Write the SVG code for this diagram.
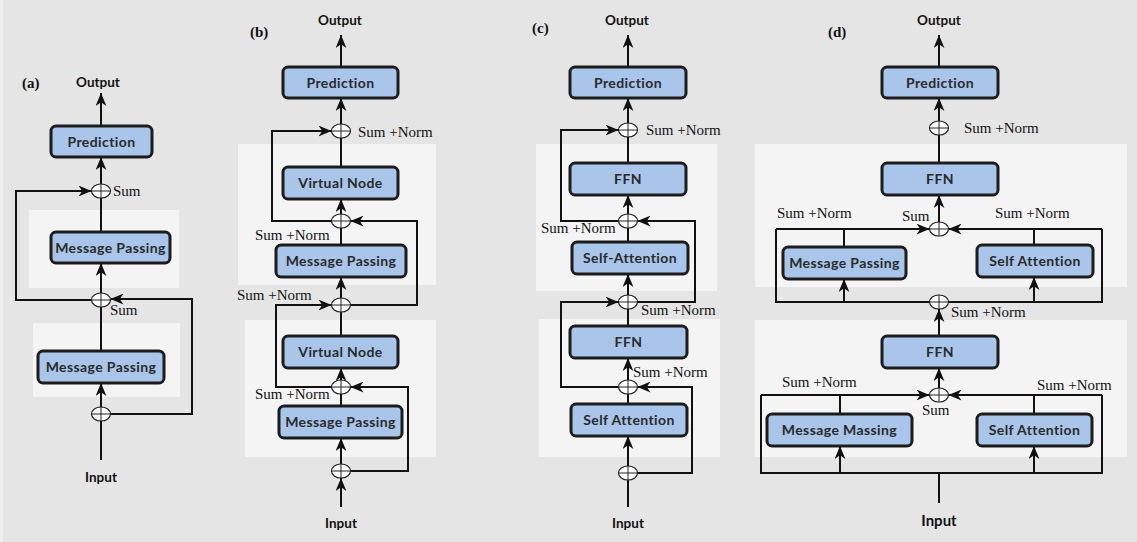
<svg xmlns="http://www.w3.org/2000/svg" width="1137" height="542" viewBox="0 0 1137 542">
<defs>
<marker id="ah" viewBox="0 0 12 10" refX="12" refY="5" markerWidth="13" markerHeight="11" markerUnits="userSpaceOnUse" orient="auto">
<path d="M0,0 L12,5 L0,10 L3.5,5 z" fill="#111"/>
</marker>
<g id="sumop">
<ellipse cx="0" cy="0" rx="9.5" ry="7" fill="#fff" stroke="#222" stroke-width="1.2"/>
<path d="M-9.5,0 H9.5 M0,-7 V7" stroke="#222" stroke-width="1"/>
</g>
</defs>
<style>
.bg{fill:#e5e5e5}
.panel{fill:#f4f4f4}
.box{fill:#a9c5ea;stroke:#1c1c1c;stroke-width:3}
.bt{font-family:Lato,"DejaVu Sans",sans-serif;font-weight:bold;font-size:14px;letter-spacing:0.4px;fill:#2a2a2a;text-anchor:middle}
.io{font-family:Lato,"DejaVu Sans",sans-serif;font-weight:bold;font-size:13.5px;fill:#111;text-anchor:middle}
.lab{font-family:"Liberation Serif",serif;font-weight:bold;font-size:15px;fill:#111}
.sn{font-family:"Liberation Serif",serif;font-size:15px;fill:#111}
.c{fill:none;stroke:#111;stroke-width:2}
.a{fill:none;stroke:#111;stroke-width:2;marker-end:url(#ah)}
</style>
<rect class="bg" x="0" y="0" width="1137" height="542"/>
<rect x="0" y="0" width="3" height="542" fill="#f0f0f0"/>

<g id="panels">
<rect class="panel" x="29" y="210" width="150" height="78"/>
<rect class="panel" x="33" y="323" width="147" height="74"/>
<rect class="panel" x="238" y="144" width="198" height="141"/>
<rect class="panel" x="245" y="320" width="191" height="137"/>
<rect class="panel" x="536" y="144" width="181" height="147"/>
<rect class="panel" x="539" y="319" width="181" height="138"/>
<rect class="panel" x="755" y="144" width="372" height="143"/>
<rect class="panel" x="755" y="320" width="372" height="137"/>
</g>

<g id="connectors">
<!-- (a) -->
<path class="a" d="M101,126 V93"/>
<path class="a" d="M101,184 V157"/>
<path class="c" d="M101,232 V198"/>
<path class="a" d="M101,293 V263"/>
<path class="c" d="M101,351 V307"/>
<path class="a" d="M101,407 V383"/>
<path class="c" d="M101,460 V421"/>
<path class="a" d="M91.5,300 H16 V191 H91.5"/>
<path class="a" d="M110.5,414 H192 V299 H110.5"/>
<!-- (b) -->
<path class="a" d="M341,67 V35"/>
<path class="a" d="M341,124 V98"/>
<path class="c" d="M341,167 V138"/>
<path class="a" d="M341,214 V199"/>
<path class="c" d="M341,245 V228"/>
<path class="a" d="M341,298 V277"/>
<path class="c" d="M341,336 V312"/>
<path class="a" d="M341,380 V368"/>
<path class="c" d="M341,406 V394"/>
<path class="a" d="M341,464 V438"/>
<path class="a" d="M341,507 V478"/>
<path class="a" d="M331.5,221 H272 V131 H331.5"/>
<path class="a" d="M350.5,305 H417 V221 H350.5"/>
<path class="a" d="M331.5,387 H276 V305 H331.5"/>
<path class="a" d="M350.5,471 H408 V387 H350.5"/>
<!-- (c) -->
<path class="a" d="M628,67 V35"/>
<path class="a" d="M628,123 V98"/>
<path class="c" d="M628,163 V137"/>
<path class="a" d="M628,214 V195"/>
<path class="c" d="M628,242 V228"/>
<path class="a" d="M628,295 V274"/>
<path class="c" d="M628,326 V309"/>
<path class="a" d="M628,380 V358"/>
<path class="c" d="M628,404 V394"/>
<path class="a" d="M628,466 V436"/>
<path class="c" d="M628,507 V480"/>
<path class="a" d="M618.5,221 H561 V130 H618.5"/>
<path class="a" d="M637.5,302 H695 V221 H637.5"/>
<path class="a" d="M618.5,387 H561 V302 H618.5"/>
<path class="a" d="M637.5,473 H692 V387 H637.5"/>
<!-- (d) -->
<path class="a" d="M939,67 V35"/>
<path class="a" d="M939,121 V98"/>
<path class="c" d="M939,163 V135"/>
<path class="a" d="M939,222 V195"/>
<path class="a" d="M776,229 H929.5"/>
<path class="a" d="M1102,229 H948.5"/>
<path class="c" d="M776,229 V302 H1102 V229"/>
<path class="c" d="M844,247 V229"/>
<path class="c" d="M1034,245 V229"/>
<path class="a" d="M844,302 V279"/>
<path class="a" d="M1034,302 V277"/>
<path class="a" d="M939,336 V309"/>
<path class="a" d="M939,388 V368"/>
<path class="a" d="M761,395 H929.5"/>
<path class="a" d="M1102,395 H948.5"/>
<path class="c" d="M761,395 V473 H1102 V395"/>
<path class="c" d="M840,414 V395"/>
<path class="c" d="M1034,414 V395"/>
<path class="a" d="M840,473 V446"/>
<path class="a" d="M1034,473 V446"/>
<path class="c" d="M939,503 V473"/>
</g>

<g id="sums">
<use href="#sumop" x="101" y="191"/>
<use href="#sumop" x="101" y="300"/>
<use href="#sumop" x="101" y="414"/>
<use href="#sumop" x="341" y="131"/>
<use href="#sumop" x="341" y="221"/>
<use href="#sumop" x="341" y="305"/>
<use href="#sumop" x="341" y="387"/>
<use href="#sumop" x="341" y="471"/>
<use href="#sumop" x="628" y="130"/>
<use href="#sumop" x="628" y="221"/>
<use href="#sumop" x="628" y="302"/>
<use href="#sumop" x="628" y="387"/>
<use href="#sumop" x="628" y="473"/>
<use href="#sumop" x="939" y="128"/>
<use href="#sumop" x="939" y="229"/>
<use href="#sumop" x="939" y="302"/>
<use href="#sumop" x="939" y="395"/>
</g>

<!-- (a) nodes -->
<g id="a-pred"><rect class="box" x="51" y="126" width="101" height="31" rx="5"/><text class="bt" x="101.5" y="146.5">Prediction</text></g>
<g id="a-mp1"><rect class="box" x="51" y="232" width="119" height="31" rx="5"/><text class="bt" x="110.5" y="252.5">Message Passing</text></g>
<g id="a-mp2"><rect class="box" x="38" y="351" width="126" height="32" rx="5"/><text class="bt" x="101" y="372">Message Passing</text></g>

<!-- (b) nodes -->
<g id="b-pred"><rect class="box" x="283" y="67" width="115" height="31" rx="5"/><text class="bt" x="340.5" y="87.5">Prediction</text></g>
<g id="b-vn1"><rect class="box" x="283" y="167" width="115" height="32" rx="5"/><text class="bt" x="340.5" y="188">Virtual Node</text></g>
<g id="b-mp1"><rect class="box" x="276" y="245" width="130" height="32" rx="5"/><text class="bt" x="341" y="266">Message Passing</text></g>
<g id="b-vn2"><rect class="box" x="283" y="336" width="115" height="32" rx="5"/><text class="bt" x="340.5" y="357">Virtual Node</text></g>
<g id="b-mp2"><rect class="box" x="279" y="406" width="123" height="32" rx="5"/><text class="bt" x="340.5" y="427">Message Passing</text></g>

<!-- (c) nodes -->
<g id="c-pred"><rect class="box" x="570" y="67" width="116" height="31" rx="5"/><text class="bt" x="628" y="87.5">Prediction</text></g>
<g id="c-ffn1"><rect class="box" x="570" y="163" width="116" height="32" rx="5"/><text class="bt" x="628" y="184">FFN</text></g>
<g id="c-sa1"><rect class="box" x="572" y="242" width="116" height="32" rx="5"/><text class="bt" x="630" y="263">Self-Attention</text></g>
<g id="c-ffn2"><rect class="box" x="570" y="326" width="117" height="32" rx="5"/><text class="bt" x="628.5" y="347">FFN</text></g>
<g id="c-sa2"><rect class="box" x="571" y="404" width="116" height="32" rx="5"/><text class="bt" x="629" y="425">Self Attention</text></g>

<!-- (d) nodes -->
<g id="d-pred"><rect class="box" x="882" y="67" width="116" height="31" rx="5"/><text class="bt" x="940" y="87.5">Prediction</text></g>
<g id="d-ffn1"><rect class="box" x="882" y="163" width="116" height="32" rx="5"/><text class="bt" x="940" y="184">FFN</text></g>
<g id="d-mp1"><rect class="box" x="783" y="247" width="123" height="32" rx="5"/><text class="bt" x="844.5" y="268">Message Passing</text></g>
<g id="d-sa1"><rect class="box" x="977" y="245" width="116" height="32" rx="5"/><text class="bt" x="1035" y="266">Self Attention</text></g>
<g id="d-ffn2"><rect class="box" x="882" y="336" width="116" height="32" rx="5"/><text class="bt" x="940" y="357">FFN</text></g>
<g id="d-mp2"><rect class="box" x="767" y="414" width="145" height="32" rx="5"/><text class="bt" x="839.5" y="435">Message Massing</text></g>
<g id="d-sa2"><rect class="box" x="977" y="414" width="115" height="32" rx="5"/><text class="bt" x="1034.5" y="435">Self Attention</text></g>

<g id="labels">
<text class="lab" x="22" y="88">(a)</text>
<text class="lab" x="250" y="37">(b)</text>
<text class="lab" x="532" y="33">(c)</text>
<text class="lab" x="828" y="37">(d)</text>
<text class="io" x="98" y="87">Output</text>
<text class="io" x="340" y="25">Output</text>
<text class="io" x="627" y="25">Output</text>
<text class="io" x="939" y="25">Output</text>
<text class="io" x="101" y="482">Input</text>
<text class="io" x="341" y="528">Input</text>
<text class="io" x="628" y="528">Input</text>
<text class="io" x="939" y="526" style="font-size:15px">Input</text>
<text class="sn" x="113" y="196">Sum</text>
<text class="sn" x="110" y="315">Sum</text>
<text class="sn" x="358" y="137">Sum +Norm</text>
<text class="sn" x="255" y="240">Sum +Norm</text>
<text class="sn" x="237" y="300">Sum +Norm</text>
<text class="sn" x="255" y="399">Sum +Norm</text>
<text class="sn" x="646" y="135">Sum +Norm</text>
<text class="sn" x="541" y="233">Sum +Norm</text>
<text class="sn" x="641" y="315">Sum +Norm</text>
<text class="sn" x="633" y="377">Sum +Norm</text>
<text class="sn" x="964" y="133">Sum +Norm</text>
<text class="sn" x="777" y="218">Sum +Norm</text>
<text class="sn" x="902" y="221">Sum</text>
<text class="sn" x="995" y="218">Sum +Norm</text>
<text class="sn" x="951" y="317">Sum +Norm</text>
<text class="sn" x="782" y="387">Sum +Norm</text>
<text class="sn" x="1037" y="390">Sum +Norm</text>
<text class="sn" x="922" y="415">Sum</text>
</g>
</svg>
